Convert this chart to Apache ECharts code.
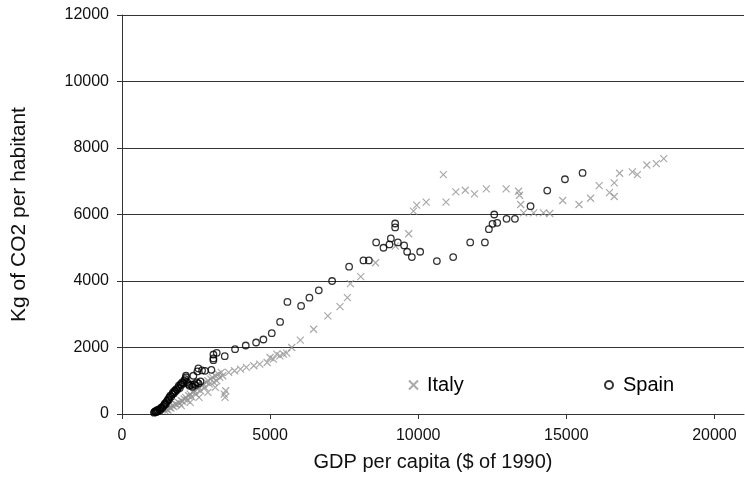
<!DOCTYPE html>
<html>
<head>
<meta charset="utf-8">
<script src="https://cdn.jsdelivr.net/npm/echarts@6/dist/echarts.min.js"></script>
<style>html,body{margin:0;padding:0;background:#fff}#c{width:745px;height:480px}</style>
</head>
<body>
<div id="c"></div>
<script>
const xTicks = [0, 5000, 10000, 15000, 20000];
const yTicks = [0, 2000, 4000, 6000, 8000, 10000, 12000];

const italy = [
[1450,100],[1500,150],[1550,120],[1600,200],[1650,180],[1700,250],[1750,220],[1800,300],[1850,280],[1900,350],
[1950,320],[2000,400],[2050,380],[2100,450],[2150,500],[2200,420],[2250,550],[2300,600],[2350,520],[2400,650],
[2450,700],[2500,600],[2550,750],[2600,800],[2650,700],[2700,850],[2750,900],[2800,800],[2850,950],[2900,1000],
[2950,900],[3000,1050],[3050,1100],[3100,950],[3150,1150],[3200,1000],[3250,1200],[3300,1100],[3350,1250],[3400,1150],
[3450,600],[3480,500],[3500,700],[3150,800],[2900,650],[2600,500],[2000,250],[2300,350],
[3600,1250],[3800,1300],[4000,1350],[4200,1400],[4450,1450],[4650,1500],[4900,1550],[5000,1700],[5110,1650],[5225,1800],
[5330,1750],[5450,1800],[5560,1830],[5730,2000],[6020,2220],[6470,2550],[6950,2950],[7360,3230],[7610,3500],[7710,3920],
[8060,4130],[8560,4550],[9230,5050],[9680,5420],[9840,6100],[9950,6280],[10270,6370],
[10850,7200],[10940,6370],[11270,6680],[11590,6730],[11900,6620],[12300,6770],[12970,6770],[13390,6700],[13420,6580],
[13460,6300],[13560,6050],[13900,6050],[14230,6050],[14440,6030],[14880,6420],[15430,6300],[15820,6490],[16110,6870],
[16460,6660],[16620,6540],[16620,6950],[16800,7240],[17230,7280],[17400,7200],[17720,7490],[18040,7530],[18290,7680]
];

const spain = [
[1080,40],[1100,60],[1120,80],[1140,50],[1160,100],[1180,70],[1200,120],[1220,90],[1250,140],[1280,110],
[1300,160],[1330,200],[1360,180],[1400,240],[1430,280],[1450,320],[1480,300],[1500,360],[1530,400],[1560,450],
[1580,420],[1600,500],[1630,550],[1660,520],[1700,600],[1720,650],[1750,620],[1780,700],[1800,680],[1830,750],
[1860,720],[1900,800],[1920,850],[1950,780],[1980,900],[2000,870],[2030,950],[2060,920],[2100,1000],[2130,1050],
[2160,1100],[2200,960],[2230,900],[2280,850],[2330,880],[2380,820],[2430,900],[2480,870],[2530,950],[2580,920],
[2650,980],[2160,1150],[2410,1150],[2545,1280],[2579,1370],[2703,1310],[2804,1300],[3018,1330],[3086,1620],[3086,1670],
[3086,1790],[3198,1840],[3469,1740],[3817,1950],[4178,2060],[4527,2150],[4774,2240],[5057,2430],[5338,2770],[5585,3370],
[6047,3250],[6327,3500],[6644,3720],[7094,4000],[7668,4430],[8152,4620],[8333,4620],[8581,5160],[8828,5000],[9030,5100],
[9077,5280],[9222,5730],[9222,5610],[9313,5160],[9526,5070],[9627,4880],[9786,4720],[10067,4880],[10631,4600],[11181,4720],
[11756,5160],[12252,5160],[12387,5560],[12510,5720],[12668,5750],[12567,6000],[12983,5870],[13266,5870],[13793,6250],[14357,6720],
[14955,7060],[15550,7250]
];

const FONT = 'Liberation Sans, Arial, sans-serif';
const cross = 'path://M0,0L10,10M10,0L0,10';

const chart = echarts.init(document.getElementById('c'), null, {renderer: 'canvas'});
chart.setOption({
  animation: false,
  backgroundColor: '#fff',
  textStyle: {fontFamily: FONT},
  grid: {left: 122, right: 1, top: 15, bottom: 66, containLabel: false},
  legend: [
    {data: ['Italy'], left: 403, top: 370, itemWidth: 9, itemHeight: 9,
     textStyle: {fontSize: 20, color: '#000', fontFamily: FONT, padding: [0,0,0,4]}},
    {data: ['Spain'], left: 599, top: 370, itemWidth: 8, itemHeight: 8,
     textStyle: {fontSize: 20, color: '#000', fontFamily: FONT, padding: [0,0,0,5]}}
  ],
  xAxis: {
    type: 'value', min: 0, max: 21000, interval: 5000,
    name: 'GDP per capita ($ of 1990)', nameLocation: 'middle', nameGap: 38,
    nameTextStyle: {fontSize: 20, color: '#111', fontFamily: FONT},
    axisLine: {show: true, onZero: false, lineStyle: {color: '#333', width: 1}},
    axisTick: {show: true, inside: false, length: 5, lineStyle: {color: '#333'}},
    axisLabel: {fontSize: 16, color: '#111', margin: 14, fontFamily: FONT,
      formatter: v => xTicks.includes(v) ? String(v) : '', showMaxLabel: false},
    splitLine: {show: false}
  },
  yAxis: {
    type: 'value', min: 0, max: 12000, interval: 2000,
    name: 'Kg of CO2 per habitant', nameLocation: 'middle', nameGap: 92, nameRotate: 90,
    nameTextStyle: {fontSize: 21, color: '#111', fontFamily: FONT},
    axisLine: {show: true, lineStyle: {color: '#333', width: 1}},
    axisTick: {show: true, inside: false, length: 5, lineStyle: {color: '#333'}},
    axisLabel: {fontSize: 16, color: '#111', margin: 13, fontFamily: FONT,
      formatter: v => yTicks.includes(v) ? String(v) : ''},
    splitLine: {show: true, lineStyle: {color: '#333', width: 1}}
  },
  series: [
    {
      name: 'Italy', type: 'scatter', data: italy, symbol: cross, symbolSize: 7,
      itemStyle: {color: 'transparent', borderColor: '#939393', borderWidth: 1.2},
      z: 2
    },
    {
      name: 'Spain', type: 'scatter', data: spain, symbol: 'circle', symbolSize: 6.5,
      itemStyle: {color: 'transparent', borderColor: '#000', borderWidth: 1.3},
      z: 3
    }
  ]
});
</script>
</body>
</html>
